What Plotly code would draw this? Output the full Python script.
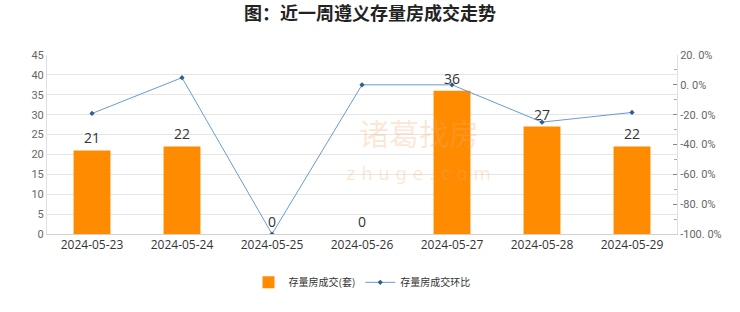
import plotly.graph_objects as go

dates = ["2024-05-23", "2024-05-24", "2024-05-25", "2024-05-26", "2024-05-27", "2024-05-28", "2024-05-29"]
volumes = [21, 22, 0, 0, 36, 27, 22]
mom_pct = [-19.2, 4.8, -100.0, 0.0, 0.0, -25.0, -18.5]
left_ticks = [0, 5, 10, 15, 20, 25, 30, 35, 40, 45]
right_ticks = [20, 0, -20, -40, -60, -80, -100]
right_labels = ["20. 0%", "0. 0%", "-20. 0%", "-40. 0%", "-60. 0%", "-80. 0%", "-100. 0%"]

font_cjk = "Noto Sans CJK SC"

fig = go.Figure()
fig.add_trace(go.Bar(
    x=dates, y=volumes, name="存量房成交(套)",
    marker=dict(color="#FF8C00", line=dict(width=0)),
    width=0.41,
    text=[str(v) for v in volumes], textposition="outside",
    textfont=dict(size=14, color="#333333", family="Open Sans"),
    cliponaxis=False,
))
fig.add_trace(go.Scatter(
    x=dates, y=mom_pct, name="存量房成交环比", yaxis="y2",
    mode="lines+markers",
    line=dict(color="#6A9BD1", width=1),
    marker=dict(color="#2E5E8C", size=4, symbol="diamond"),
))

# watermark
fig.add_annotation(text="诸葛找房", xref="paper", yref="paper", x=0.59, y=0.57,
                   showarrow=False, font=dict(size=30, color="rgba(245,170,110,0.28)", family=font_cjk))
fig.add_annotation(text="z h u g e . c o m", xref="paper", yref="paper", x=0.59, y=0.27,
                   showarrow=False, font=dict(size=18, color="rgba(245,170,110,0.28)", family="DejaVu Sans"))

fig.update_layout(
    width=740, height=312,
    margin=dict(l=47, r=63, t=55, b=78),
    paper_bgcolor="#FFFFFF", plot_bgcolor="#FFFFFF",
    title=dict(text="<b>图：近一周遵义存量房成交走势</b>", x=0.5, xanchor="center", y=0.955, yanchor="middle",
               font=dict(size=18, color="#222222", family=font_cjk)),
    font=dict(family=font_cjk, color="#555555"),
    bargap=0.59,
    showlegend=True,
    legend=dict(orientation="h", x=0.5, xanchor="center", y=-0.27, yanchor="middle",
                font=dict(size=10, color="#333333", family=font_cjk), itemwidth=30),
    xaxis=dict(
        type="category", showgrid=False, showline=True, linecolor="#D0D0D0", linewidth=1,
        ticks="", tickfont=dict(size=12, color="#333333", family="Open Sans"),
    ),
    yaxis=dict(
        range=[0, 45], tickvals=left_ticks, showgrid=True, gridcolor="#E6E6E6", gridwidth=1,
        showline=True, linecolor="#E0E0E0", zeroline=False,
        tickfont=dict(size=11, color="#666666", family="Roboto"),
    ),
    yaxis2=dict(
        overlaying="y", side="right", range=[-100, 20], tickvals=right_ticks, ticktext=right_labels,
        showgrid=False, zeroline=False, showline=True, linecolor="#E0E0E0",
        ticks="inside", ticklen=4, tickcolor="#888888",
        minor=dict(ticks="inside", ticklen=3, tickcolor="#AAAAAA", dtick=10),
        tickfont=dict(size=11, color="#666666", family="Roboto"),
    ),
)

fig.write_html("out.html")
